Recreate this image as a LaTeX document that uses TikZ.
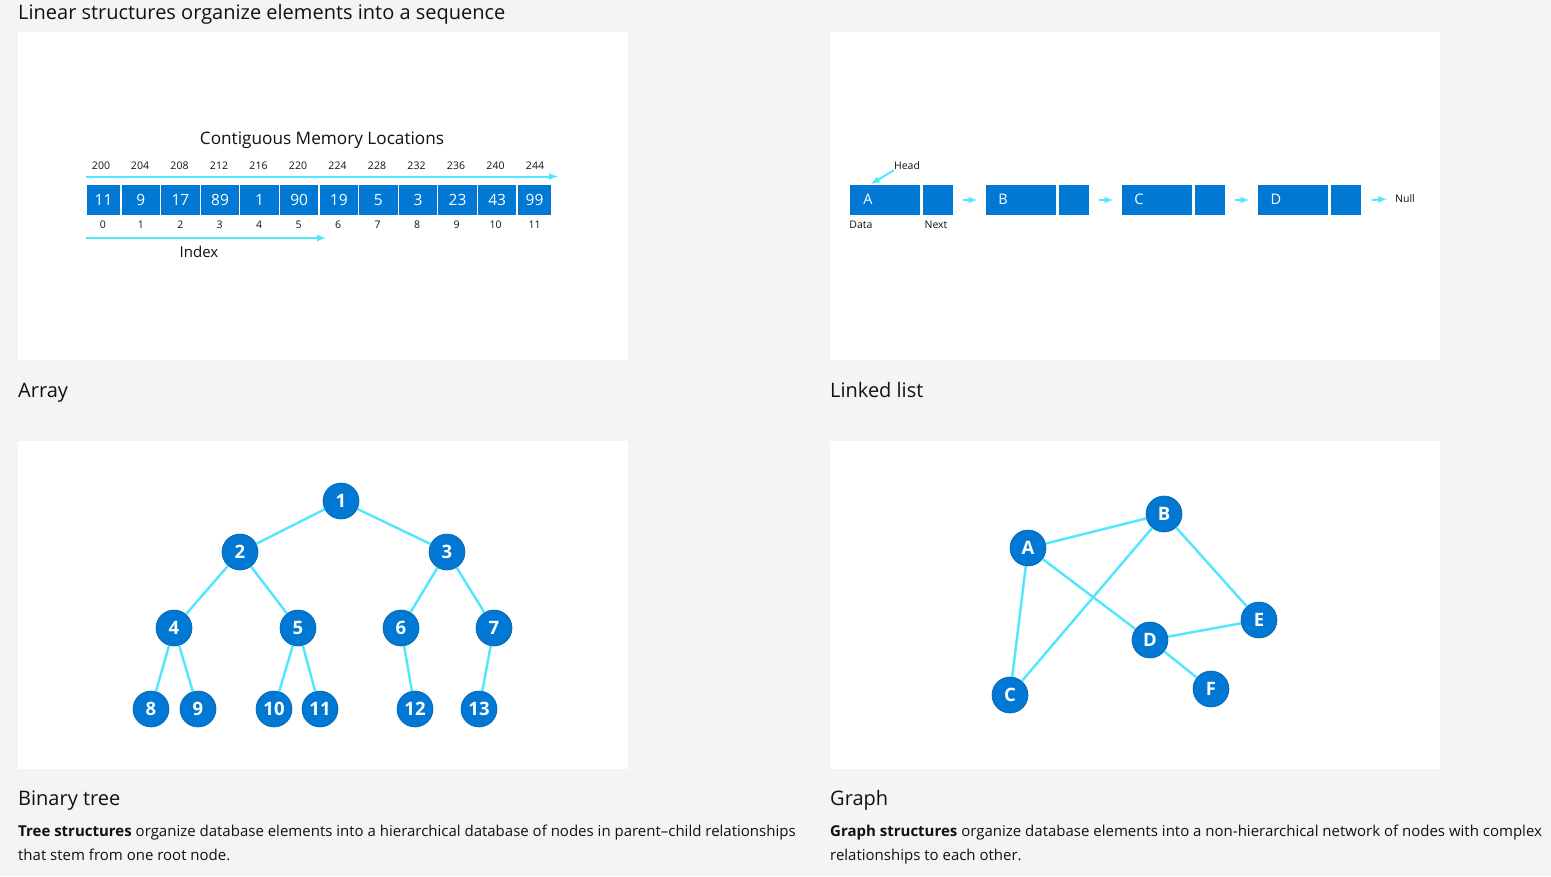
\documentclass[tikz,border=0pt]{standalone}
\usepackage{fontspec}
\setmainfont{Open Sans}
\usepackage{tikz}
\usetikzlibrary{arrows}

\definecolor{azure}{HTML}{0078D4}
\definecolor{cyanline}{HTML}{50E6FF}
\definecolor{pagegrey}{HTML}{F3F4F6}
\definecolor{inkgrey}{HTML}{111111}

\tikzset{
  heading/.style={anchor=base west, text=inkgrey, inner sep=0pt, font=\fontsize{20}{24}\selectfont},
  bodytext/.style={anchor=base west, text=inkgrey, inner sep=0pt, font=\fontsize{15}{18}\selectfont},
  smalllabel/.style={text=inkgrey, inner sep=0pt, font=\fontsize{10.5}{12}\selectfont},
  memcell/.style={fill=azure, draw=white, line width=1.2pt, minimum width=39.6pt, minimum height=31.5pt, inner sep=0pt, text=white, font=\fontsize{15.5}{15}\selectfont},
  listdata/.style={fill=azure, draw=white, line width=1.2pt, minimum width=72pt, minimum height=30.5pt, inner sep=0pt},
  listnext/.style={fill=azure, draw=white, line width=1.2pt, minimum width=32pt, minimum height=30.5pt, inner sep=0pt},
  listletter/.style={text=white, inner sep=0pt, font=\fontsize{14.5}{14}\selectfont},
  vertex/.style={circle, fill=azure, draw=azure!80!black, line width=0.6pt, minimum size=36pt, inner sep=0pt, text=white, font=\bfseries\fontsize{18.5}{18}\selectfont},
  link/.style={draw=cyanline, line width=2.4pt},
  pointer/.style={draw=cyanline, line width=2pt, -latex},
}

\begin{document}
\begin{tikzpicture}[x=1pt,y=-1pt]
\useasboundingbox[fill=pagegrey] (0,0) rectangle (1551,876);

% white panels
\fill[white] (18,32) rectangle (628,360);
\fill[white] (830,32) rectangle (1440,360);
\fill[white] (18,441) rectangle (628,769);
\fill[white] (830,441) rectangle (1440,769);

\node[heading] (title) at (18,19) {Linear structures organize elements into a sequence};

% array
\node[text=inkgrey, font=\fontsize{17.2}{19}\selectfont] (memtitle) at (322,140) {Contiguous Memory Locations};
\node[memcell, minimum width=35pt] (v0) at (103.5,200) {11};
\node[memcell] (v1) at (140.8,200) {9};
\node[memcell] (v2) at (180.4,200) {17};
\node[memcell] (v3) at (220,200) {89};
\node[memcell] (v4) at (259.6,200) {1};
\node[memcell] (v5) at (299.2,200) {90};
\node[memcell] (v6) at (338.8,200) {19};
\node[memcell] (v7) at (378.4,200) {5};
\node[memcell] (v8) at (418,200) {3};
\node[memcell] (v9) at (457.6,200) {23};
\node[memcell] (v10) at (497.2,200) {43};
\node[memcell, minimum width=35pt] (v11) at (534.5,200) {99};
\node[smalllabel] (a0) at (101,166) {200};
\node[smalllabel] (a1) at (140,166) {204};
\node[smalllabel] (a2) at (179.5,166) {208};
\node[smalllabel] (a3) at (219,166) {212};
\node[smalllabel] (a4) at (258.5,166) {216};
\node[smalllabel] (a5) at (298,166) {220};
\node[smalllabel] (a6) at (337.5,166) {224};
\node[smalllabel] (a7) at (377,166) {228};
\node[smalllabel] (a8) at (416.5,166) {232};
\node[smalllabel] (a9) at (456,166) {236};
\node[smalllabel] (a10) at (495.5,166) {240};
\node[smalllabel] (a11) at (535,166) {244};
\node[smalllabel] (i0) at (103,225) {0};
\node[smalllabel] (i1) at (141,225) {1};
\node[smalllabel] (i2) at (180.5,225) {2};
\node[smalllabel] (i3) at (219.5,225) {3};
\node[smalllabel] (i4) at (259,225) {4};
\node[smalllabel] (i5) at (298.5,225) {5};
\node[smalllabel] (i6) at (338,225) {6};
\node[smalllabel] (i7) at (377.5,225) {7};
\node[smalllabel] (i8) at (417,225) {8};
\node[smalllabel] (i9) at (456.5,225) {9};
\node[smalllabel] (i10) at (495.5,225) {10};
\node[smalllabel] (i11) at (534.5,225) {11};
\coordinate (addrfrom) at (86,176.5);
\coordinate (addrto) at (558,176.5);
\draw[pointer] (addrfrom) -- (addrto);
\coordinate (idxfrom) at (86,238);
\coordinate (idxto) at (326,238);
\draw[pointer] (idxfrom) -- (idxto);
\node[text=inkgrey, font=\fontsize{15}{16}\selectfont] (idxlabel) at (199,252) {Index};

\node[heading] (arraycap) at (18,397) {Array};

% linked list
\node[listdata] (adata) at (885,200) {};
\node[listnext] (anext) at (938,200) {};
\node[listdata] (bdata) at (1021,200) {};
\node[listnext] (bnext) at (1074,200) {};
\node[listdata] (cdata) at (1157,200) {};
\node[listnext] (cnext) at (1210,200) {};
\node[listdata] (ddata) at (1293,200) {};
\node[listnext] (dnext) at (1346,200) {};
\node[listletter] (aletter) at (868,199) {A};
\node[listletter] (bletter) at (1003,199) {B};
\node[listletter] (cletter) at (1139,199) {C};
\node[listletter] (dletter) at (1276,199) {D};
\node[smalllabel] (nulllabel) at (1405,199) {Null};
\node[smalllabel] (head) at (907,166) {Head};
\node[smalllabel] (datalabel) at (861,225) {Data};
\node[smalllabel] (nextlabel) at (936,225) {Next};
\coordinate (headtip) at (871,184);
\draw[pointer] (head.south west) -- (headtip);
\draw[pointer] ([xshift=8pt]anext.east) -- ([xshift=-7pt]bdata.west);
\draw[pointer] ([xshift=8pt]bnext.east) -- ([xshift=-7pt]cdata.west);
\draw[pointer] ([xshift=8pt]cnext.east) -- ([xshift=-7pt]ddata.west);
\draw[pointer] ([xshift=9pt]dnext.east) -- ([xshift=-8pt]nulllabel.west);

\node[heading] (listcap) at (830,397) {Linked list};

% binary tree
\node[vertex] (t1) at (341,501) {1};
\node[vertex] (t2) at (240,552) {2};
\node[vertex] (t3) at (447,552) {3};
\node[vertex] (t4) at (174,628) {4};
\node[vertex] (t5) at (298,628) {5};
\node[vertex] (t6) at (401,628) {6};
\node[vertex] (t7) at (494,628) {7};
\node[vertex] (t8) at (151,709) {8};
\node[vertex] (t9) at (198,709) {9};
\node[vertex] (t10) at (274,709) {10};
\node[vertex] (t11) at (320,709) {11};
\node[vertex] (t12) at (415,709) {12};
\node[vertex] (t13) at (479,709) {13};
\draw[link] (t1) -- (t2);
\draw[link] (t1) -- (t3);
\draw[link] (t2) -- (t4);
\draw[link] (t2) -- (t5);
\draw[link] (t3) -- (t6);
\draw[link] (t3) -- (t7);
\draw[link] (t4) -- (t8);
\draw[link] (t4) -- (t9);
\draw[link] (t5) -- (t10);
\draw[link] (t5) -- (t11);
\draw[link] (t6) -- (t12);
\draw[link] (t7) -- (t13);

\node[heading] (treecap) at (18,805) {Binary tree};
\node[bodytext] (treetext) at (18,836) {\textbf{Tree structures} organize database elements into a hierarchical database of nodes in parent–child relationships};
\node[bodytext] (treetextb) at (18,860) {that stem from one root node.};

% graph
\node[vertex] (ga) at (1028,548) {A};
\node[vertex] (gb) at (1164,514) {B};
\node[vertex] (gc) at (1010,695) {C};
\node[vertex] (gd) at (1150,640) {D};
\node[vertex] (ge) at (1259,620) {E};
\node[vertex] (gf) at (1211,689) {F};
\draw[link] (ga) -- (gb);
\draw[link] (ga) -- (gc);
\draw[link] (ga) -- (gd);
\draw[link] (gb) -- (gc);
\draw[link] (gb) -- (ge);
\draw[link] (gd) -- (ge);
\draw[link] (gd) -- (gf);

\node[heading] (graphcap) at (830,805) {Graph};
\node[bodytext] (graphtext) at (830,836) {\textbf{Graph structures} organize database elements into a non-hierarchical network of nodes with complex};
\node[bodytext] (graphtextb) at (830,860) {relationships to each other.};
\end{tikzpicture}
\end{document}
